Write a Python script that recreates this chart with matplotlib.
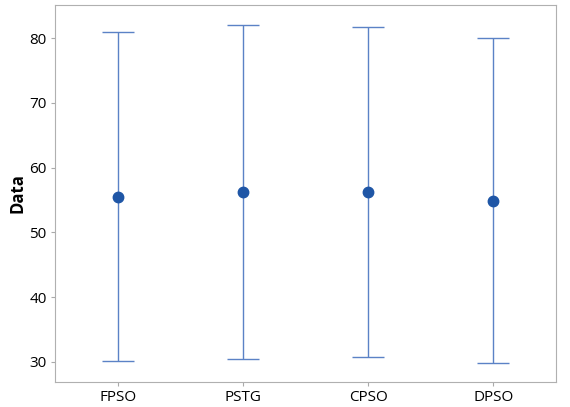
import numpy as np
import matplotlib.pyplot as plt

plt.rcParams['font.family'] = ['Open Sans', 'DejaVu Sans']

groups = ['FPSO', 'PSTG', 'CPSO', 'DPSO']
means = [55.5, 56.2, 56.2, 54.85]
highs = [80.9, 82.0, 81.7, 80.0]
lows = [30.15, 30.45, 30.75, 29.85]

fig = plt.figure(figsize=(5.7, 4.07), dpi=100)
ax = fig.add_axes([55/570, 25/407, 501/570, 377/407])

x = np.arange(1, len(groups) + 1)
m = np.array(means)
err = [m - np.array(lows), np.array(highs) - m]
ax.errorbar(x, m, yerr=err, fmt='none', ecolor='#5b82c6', elinewidth=1.0,
            capsize=11.5, capthick=1.0, zorder=2)
ax.plot(x, m, 'o', color='#1f56a6', markersize=7.5, zorder=3)

ax.set_xlim(0.5, 4.5)
ax.set_ylim(26.9, 85.1)
ax.set_xticks(x)
ax.set_xticklabels(groups)
ax.set_yticks([30, 40, 50, 60, 70, 80])
ax.set_ylabel('Data', fontsize=12, fontweight='bold', labelpad=2)
ax.tick_params(labelsize=11, color='#aaaaaa', length=3, pad=3)
for s in ax.spines.values():
    s.set_color('#b0b0b0')

fig.savefig('out.png', dpi=100)
